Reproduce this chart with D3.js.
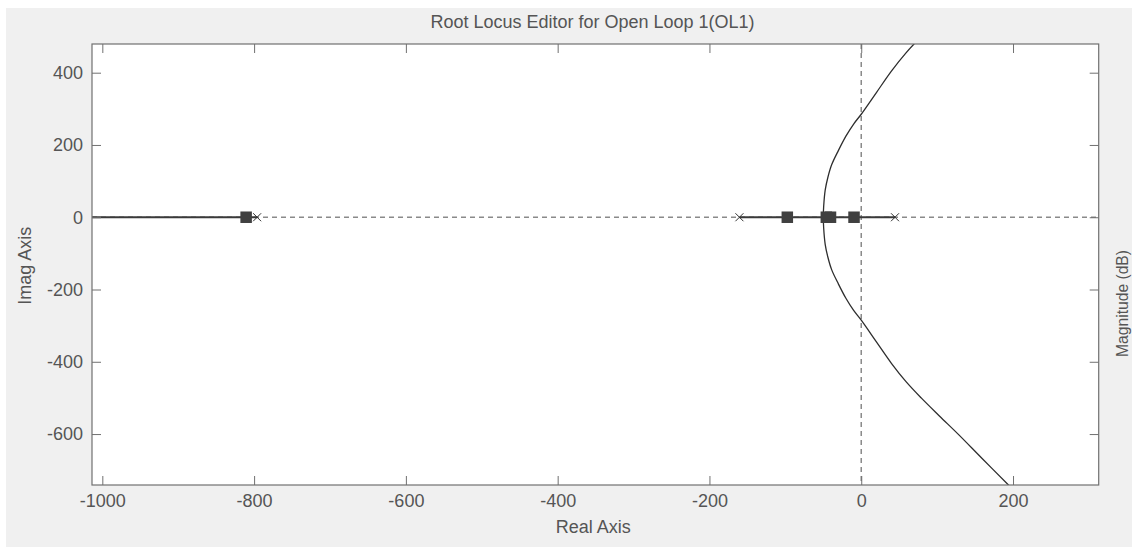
<!DOCTYPE html>
<html>
<head>
<meta charset="utf-8">
<style>
    body { margin: 0; background: #ffffff; }
    text { font-family: "Liberation Sans", Arial, sans-serif; fill: #555555; }
</style>
</head>
<body>
<svg width="1132" height="547"></svg>
<script src="https://d3js.org/d3.v7.min.js"></script>
<script>
    // tick values
    const xTicks = [-1000, -800, -600, -400, -200, 0, 200];
    const yTicks = [-600, -400, -200, 0, 200, 400];

    // open loop poles (x) and current closed loop poles (squares), all on the real axis
    const openPoles = [-796, -160.5, 44.5];
    const closedPoles = [-810.5, -97.4, -46, -40.5, -9.5];

    // locus parts lying on the real axis
    const realSegStart = [-1100, -160.5];
    const realSegEnd = [-796, 44.5];

    // complex branch (upper half, the lower one is its conjugate)
    const branchIm = [0, 30, 75, 110, 145, 185, 225, 258, 285, 345, 405, 455, 500, 550, 603, 665, 741, 780];
    const branchRe = [-50, -49.5, -47.5, -44, -39, -30, -20, -10, 0, 20, 40, 59, 79, 103, 129, 158, 194, 212];

    const svg = d3.select("svg");
    const pLeft = 92, pRight = 1098.7, pTop = 44, pBottom = 485;

    const x = d3.scaleLinear().domain([-1013.6, 312.9]).range([pLeft, pRight]);
    const y = d3.scaleLinear().domain([-741, 479.4]).range([pBottom, pTop]);

    // figure background
    svg.append("rect").attr("x", 6).attr("y", 8).attr("width", 1132 - 6).attr("height", 547 - 8)
        .attr("fill", "#f0f0f0");
    svg.append("rect").attr("x", pLeft).attr("y", pTop).attr("width", pRight - pLeft).attr("height", pBottom - pTop)
        .attr("fill", "#ffffff");

    svg.append("defs").append("clipPath").attr("id", "plotclip")
        .append("rect").attr("x", pLeft).attr("y", pTop).attr("width", pRight - pLeft).attr("height", pBottom - pTop);

    const plot = svg.append("g").attr("clip-path", "url(#plotclip)");

    // dashed zero lines
    plot.append("line")
        .attr("x1", pLeft).attr("x2", pRight).attr("y1", y(0)).attr("y2", y(0))
        .attr("stroke", "#8a8a8a").attr("stroke-width", 1.5).attr("stroke-dasharray", "5,4");
    plot.append("line")
        .attr("x1", x(0)).attr("x2", x(0)).attr("y1", pTop).attr("y2", pBottom)
        .attr("stroke", "#8a8a8a").attr("stroke-width", 1.5).attr("stroke-dasharray", "5,4");

    // real axis locus
    realSegStart.forEach((s, i) => {
        plot.append("line")
            .attr("x1", x(s)).attr("x2", x(realSegEnd[i]))
            .attr("y1", y(0)).attr("y2", y(0))
            .attr("stroke", "#3a3a3a").attr("stroke-width", 2);
    });

    // complex branches
    const upper = branchIm.map((im, i) => [branchRe[i], im]);
    const lower = branchIm.map((im, i) => [branchRe[i], -im]);
    const line = d3.line().x(d => x(d[0])).y(d => y(d[1])).curve(d3.curveCatmullRom);
    [upper, lower].forEach(b => {
        plot.append("path").attr("d", line(b))
            .attr("fill", "none").attr("stroke", "#2e2e2e").attr("stroke-width", 1.3);
    });

    // closed loop poles
    const sq = 11.5;
    plot.selectAll(".clp").data(closedPoles).enter().append("rect")
        .attr("class", "clp")
        .attr("x", d => x(d) - sq / 2).attr("y", y(0) - sq / 2)
        .attr("width", sq).attr("height", sq)
        .attr("fill", "#404040");

    // open loop poles
    const xs = 4;
    openPoles.forEach(p => {
        plot.append("path")
            .attr("d", `M${x(p) - xs},${y(0) - xs}L${x(p) + xs},${y(0) + xs}M${x(p) - xs},${y(0) + xs}L${x(p) + xs},${y(0) - xs}`)
            .attr("stroke", "#333333").attr("stroke-width", 1).attr("fill", "none");
    });

    // axes, ticks pointing inwards
    const tickLen = 9;
    const fmt = d => String(d);
    const styleAxis = g => {
        g.select(".domain").remove();
        g.selectAll(".tick line").attr("stroke", "#707070");
        g.selectAll(".tick text").style("font-size", "18px").attr("fill", "#5a5a5a");
    };
    svg.append("g").attr("transform", `translate(0,${pBottom})`)
        .call(d3.axisBottom(x).tickValues(xTicks).tickFormat(fmt).tickSizeInner(-tickLen).tickSizeOuter(0).tickPadding(9))
        .call(styleAxis);
    svg.append("g").attr("transform", `translate(0,${pTop})`)
        .call(d3.axisTop(x).tickValues(xTicks).tickSizeInner(-tickLen).tickSizeOuter(0).tickFormat(""))
        .call(styleAxis);
    svg.append("g").attr("transform", `translate(${pLeft},0)`)
        .call(d3.axisLeft(y).tickValues(yTicks).tickFormat(fmt).tickSizeInner(-tickLen).tickSizeOuter(0).tickPadding(9))
        .call(styleAxis);
    svg.append("g").attr("transform", `translate(${pRight},0)`)
        .call(d3.axisRight(y).tickValues(yTicks).tickSizeInner(-tickLen).tickSizeOuter(0).tickFormat(""))
        .call(styleAxis);
    svg.selectAll("g text").attr("font-family", null);

    // box
    svg.append("rect").attr("x", pLeft).attr("y", pTop).attr("width", pRight - pLeft).attr("height", pBottom - pTop)
        .attr("fill", "none").attr("stroke", "#707070").attr("stroke-width", 1.2);

    // labels
    svg.append("text").attr("x", 592.5).attr("y", 28).attr("text-anchor", "middle")
        .style("font-size", "18px").text("Root Locus Editor for Open Loop 1(OL1)");
    svg.append("text").attr("x", 593.3).attr("y", 533).attr("text-anchor", "middle")
        .style("font-size", "18px").text("Real Axis");
    svg.append("text").attr("transform", "translate(30.7,265.8) rotate(-90)").attr("text-anchor", "middle")
        .style("font-size", "18px").text("Imag Axis");
    svg.append("text").attr("transform", "translate(1128,303.5) rotate(-90)").attr("text-anchor", "middle")
        .style("font-size", "16px").attr("textLength", 107).attr("lengthAdjust", "spacingAndGlyphs")
        .text("Magnitude (dB)");
</script>
</body>
</html>
